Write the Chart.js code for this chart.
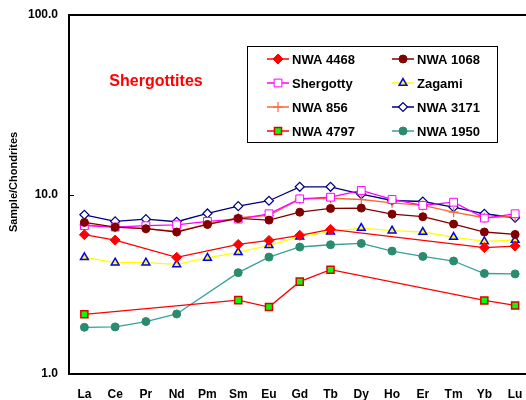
<!DOCTYPE html>
<html>
<head>
<meta charset="utf-8">
<script src="https://cdn.jsdelivr.net/npm/chart.js"></script>
<style>
  html, body { margin: 0; padding: 0; background: #ffffff; overflow: hidden; }
  #chart { display: block; }
</style>
</head>
<body>
<canvas id="chart" width="537" height="400"></canvas>
<script>
// REE pattern, chondrite normalised
const elements = ['La', 'Ce', 'Pr', 'Nd', 'Pm', 'Sm', 'Eu', 'Gd', 'Tb', 'Dy', 'Ho', 'Er', 'Tm', 'Yb', 'Lu'];
const yTicks = [1, 10, 100];

const nwa4468   = [5.97, 5.57, null, 4.47, null, 5.27, 5.55, 5.92, 6.39, null, null, null, null, 5.06, 5.16];
const nwa1068   = [6.99, 6.58, 6.45, 6.18, 6.81, 7.36, 7.20, 7.97, 8.36, 8.40, 7.77, 7.52, 6.84, 6.18, 5.99];
const shergotty = [6.70, 6.58, 6.70, 6.78, 7.08, 7.29, 7.81, 9.46, 9.66, 10.53, 9.38, 8.69, 9.06, 7.39, 7.81];
const zagami    = [4.47, 4.17, 4.17, 4.08, 4.43, 4.76, 5.21, 5.82, 6.21, 6.50, 6.29, 6.18, 5.79, 5.48, 5.57];
const nwa856    = [6.78, 6.58, 6.45, 6.23, 6.84, 7.42, 7.64, 9.42, 9.53, 9.38, 8.99, 8.69, 7.97, 7.42, 7.55];
const nwa3171   = [7.71, 7.08, 7.29, 7.05, 7.84, 8.61, 9.23, 11.04, 11.04, 10.04, 9.26, 9.14, 8.50, 7.81, 7.42];
const nwa4797   = [2.15, null, null, null, null, 2.58, 2.36, 3.27, 3.81, null, null, null, null, 2.57, 2.41];
const nwa1950   = [1.82, 1.83, 1.96, 2.16, null, 3.67, 4.48, 5.10, 5.25, 5.34, 4.84, 4.52, 4.26, 3.63, 3.61];

const FONT = 'Liberation Sans, Arial, Helvetica, sans-serif';

function series(label, data, line, style, radius, fill, border, bw) {
  return {
    label: label,
    data: data,
    borderColor: line,
    borderWidth: 1.3,
    pointStyle: style,
    pointRadius: radius,
    pointBackgroundColor: fill,
    pointBorderColor: border,
    pointBorderWidth: bw,
    spanGaps: true,
    tension: 0,
    fill: false
  };
}

const datasets = [
  series('NWA 4468', nwa4468, '#ff0000', 'rectRot', 5, '#ff0000', '#ff0000', 1),
  series('NWA 1068', nwa1068, '#800000', 'circle', 4, '#800000', '#800000', 1),
  series('Shergotty', shergotty, '#ff00ff', 'rect', 5.5, '#ffffff', '#ff00ff', 1),
  series('Zagami', zagami, '#ffff00', 'triangle', 4.5, '#ffff00', '#0000ff', 1.5),
  series('NWA 856', nwa856, '#ff6633', 'cross', 5, '#ff6633', '#ff6633', 1.2),
  series('NWA 3171', nwa3171, '#000080', 'rectRot', 4.5, '#ffffff', '#000080', 1.2),
  series('NWA 4797', nwa4797, '#ff0000', 'rect', 5, '#00ff00', '#e00000', 1.5),
  series('NWA 1950', nwa1950, '#33a0a0', 'circle', 4, '#2a8c6c', '#2a8c6c', 1)
];

// box round the plot, inner ticks, title, y title and the legend box
const decor = {
  id: 'decor',
  afterDraw(chart) {
    const ctx = chart.ctx;
    const a = chart.chartArea;
    const y = chart.scales.y;
    ctx.save();
    ctx.strokeStyle = '#000000';
    ctx.lineWidth = 2;
    ctx.strokeRect(a.left, a.top, a.right - a.left, a.bottom - a.top);
    ctx.lineWidth = 1;
    yTicks.forEach(v => {
      const py = Math.round(y.getPixelForValue(v)) + 0.5;
      ctx.beginPath();
      ctx.moveTo(a.left, py);
      ctx.lineTo(a.left + 5, py);
      ctx.stroke();
    });

    ctx.fillStyle = '#ff0000';
    ctx.font = 'bold 16px ' + FONT;
    ctx.textAlign = 'center';
    ctx.textBaseline = 'middle';
    ctx.fillText('Shergottites', 156, 82);

    ctx.fillStyle = '#000000';
    ctx.font = 'bold 11px ' + FONT;
    ctx.translate(14, 182);
    ctx.rotate(-Math.PI / 2);
    ctx.fillText('Sample/Chondrites', 0, 0);
    ctx.restore();

    // legend
    ctx.save();
    ctx.strokeStyle = '#000000';
    ctx.lineWidth = 1;
    ctx.strokeRect(247.5, 46.5, 250, 96);
    ctx.font = 'bold 13px ' + FONT;
    ctx.textAlign = 'left';
    ctx.textBaseline = 'middle';
    const cols = [267, 392];
    const rows = [59, 83, 107, 131];
    chart.data.datasets.forEach((ds, i) => {
      const x0 = cols[i % 2];
      const yy = rows[Math.floor(i / 2)];
      ctx.strokeStyle = ds.borderColor;
      ctx.lineWidth = 1.5;
      ctx.beginPath();
      ctx.moveTo(x0, yy);
      ctx.lineTo(x0 + 22, yy);
      ctx.stroke();
      ctx.fillStyle = ds.pointBackgroundColor;
      ctx.strokeStyle = ds.pointBorderColor;
      ctx.lineWidth = ds.pointBorderWidth;
      Chart.helpers.drawPoint(ctx, {
        pointStyle: ds.pointStyle,
        radius: ds.pointRadius,
        rotation: 0,
        borderWidth: ds.pointBorderWidth
      }, x0 + 11, yy);
      ctx.fillStyle = '#000000';
      ctx.fillText(ds.label, x0 + 25, yy + 1);
    });
    ctx.restore();
  }
};

new Chart(document.getElementById('chart'), {
  type: 'line',
  data: { labels: elements, datasets: datasets },
  options: {
    responsive: false,
    animation: false,
    layout: { padding: { top: 15, right: 4, left: 0, bottom: 0 } },
    plugins: {
      legend: { display: false },
      tooltip: { enabled: false }
    },
    scales: {
      x: {
        offset: true,
        grid: { drawOnChartArea: false, drawTicks: true, tickLength: 13, color: 'rgba(0,0,0,0)' },
        border: { display: false },
        ticks: {
          color: '#000000',
          padding: 0,
          maxRotation: 0,
          autoSkip: false,
          font: { family: FONT, size: 12, weight: 'bold' }
        },
        afterFit: s => { s.height = 26; }
      },
      y: {
        type: 'logarithmic',
        min: 1,
        max: 100,
        grid: { drawOnChartArea: false, drawTicks: true, tickLength: 11, color: 'rgba(0,0,0,0)' },
        border: { display: false },
        afterBuildTicks: s => { s.ticks = yTicks.map(v => ({ value: v })); },
        ticks: {
          color: '#000000',
          padding: 0,
          font: { family: FONT, size: 12, weight: 'bold' },
          callback: v => Number(v).toFixed(1)
        },
        afterFit: s => { s.width = 69; }
      }
    }
  },
  plugins: [decor]
});
</script>
</body>
</html>
